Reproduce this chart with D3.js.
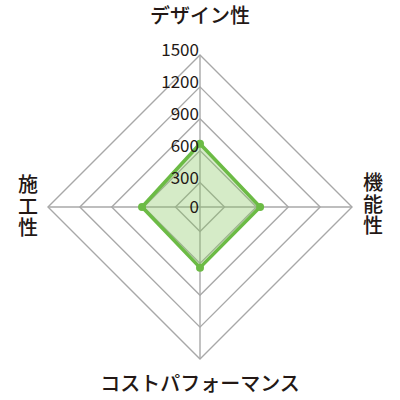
<!DOCTYPE html>
<html>
<head>
<meta charset="utf-8">
<script src="https://cdn.jsdelivr.net/npm/d3@7"></script>
<style>
  body { margin: 0; background: #fff; }
  svg text { font-family: "Noto Sans CJK JP", "Noto Sans", sans-serif; fill: #231815; }
</style>
</head>
<body>
<svg id="chart" width="400" height="400"></svg>
<script>
// axes, clockwise from top
var axes = ["デザイン性", "機能性", "コストパフォーマンス", "施工性"];
var values = [665, 635, 640, 615];
var ticks = [0, 300, 600, 900, 1200, 1500];
var rings = [300, 600, 900, 1200, 1500];

var cx = 200, cy = 207;
var svg = d3.select("#chart");
var g = svg.append("g").attr("transform", "translate(" + cx + "," + cy + ")");

// first ring sits closer to the centre than the rest
var r = d3.scaleLinear().domain([0, 300, 1500]).range([0, 24.5, 152]);
var angle = d3.scaleBand().domain(axes).range([0, 2 * Math.PI]);

function pt(name, v) {
    var a = angle(name) - Math.PI / 2;
    return [Math.cos(a) * r(v), Math.sin(a) * r(v)];
}

var line = d3.line();

// grid
g.selectAll(".ring").data(rings).enter().append("path")
    .attr("class", "ring")
    .attr("fill", "none")
    .attr("stroke", "#a8a8a8")
    .attr("stroke-width", 1.4)
    .attr("d", function(d) {
        return line(axes.map(function(a) { return pt(a, d); })) + "Z";
    });

g.selectAll(".spoke").data(axes).enter().append("line")
    .attr("class", "spoke")
    .attr("stroke", "#a8a8a8")
    .attr("stroke-width", 1.4)
    .attr("x1", 0).attr("y1", 0)
    .attr("x2", function(d) { return pt(d, 1500)[0]; })
    .attr("y2", function(d) { return pt(d, 1500)[1]; });

// data area
var pts = axes.map(function(a, i) { return pt(a, values[i]); });
g.append("path")
    .attr("d", line(pts) + "Z")
    .attr("fill", "#86c65f")
    .attr("fill-opacity", 0.35)
    .attr("stroke", "#6cbb45")
    .attr("stroke-width", 3.5)
    .attr("stroke-linejoin", "round");

g.selectAll(".dot").data(pts).enter().append("circle")
    .attr("class", "dot")
    .attr("cx", function(d) { return d[0]; })
    .attr("cy", function(d) { return d[1]; })
    .attr("r", 4)
    .attr("fill", "#6cbb45");

// tick labels along the top axis
g.selectAll(".tick").data(ticks).enter().append("text")
    .attr("class", "tick")
    .attr("x", -1)
    .attr("y", function(d) { return -r(d) + (d == 0 ? 6 : 1); })
    .attr("text-anchor", "end")
    .attr("font-size", 17)
    .text(function(d) { return d; });

// axis titles
svg.append("text")
    .attr("x", 200).attr("y", 23)
    .attr("text-anchor", "middle")
    .attr("font-size", 20)
    .attr("font-weight", 500)
    .text(axes[0]);

svg.append("text")
    .attr("x", 200).attr("y", 391)
    .attr("text-anchor", "middle")
    .attr("font-size", 20)
    .attr("font-weight", 500)
    .text(axes[2]);

// side titles written top to bottom
function vertical(label, x, y) {
    svg.append("text")
        .attr("x", x).attr("y", y)
        .attr("text-anchor", "middle")
        .style("writing-mode", "vertical-rl")
        .attr("letter-spacing", 1.5)
        .attr("font-size", 20)
        .attr("font-weight", 500)
        .text(label);
}
vertical(axes[1], 373, 205);
vertical(axes[3], 28, 207);
</script>
</body>
</html>
